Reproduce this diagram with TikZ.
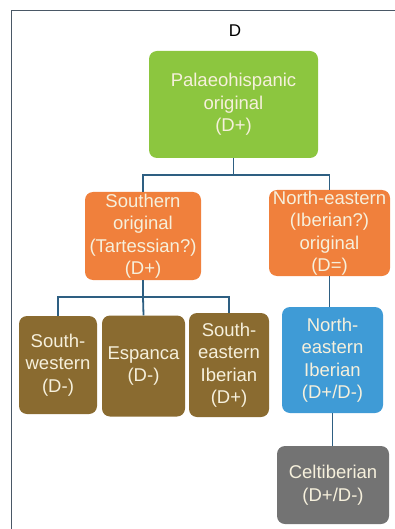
\documentclass[tikz,border=0pt]{standalone}
\usepackage{fontspec}
\setmainfont{Liberation Sans}
\begin{document}
\begin{tikzpicture}[x=1pt,y=-1pt,
  box/.style={rounded corners=8pt, inner sep=0pt, align=center, text=boxtext,
    font=\fontsize{18.5}{22.5}\selectfont},
  conn/.style={draw=connblue, line width=1.8pt},
]
\definecolor{boxtext}{HTML}{F6F0DC}
\definecolor{cgreen}{HTML}{8CC63F}
\definecolor{corange}{HTML}{F0803C}
\definecolor{cbrown}{HTML}{8A6B30}
\definecolor{cblue}{HTML}{3F9BD6}
\definecolor{cgray}{HTML}{737373}
\definecolor{connblue}{HTML}{2E5F82}
\definecolor{framec}{HTML}{4A5866}
\useasboundingbox (0,0) rectangle (395,529);
\draw[framec, line width=0.8pt] (11,529) -- (11,10) -- (395,10);
\node[font=\fontsize{17}{20}\selectfont] (title) at (235,31) {D};
\node[box, fill=cgreen, minimum width=169pt, minimum height=107pt] (pal) at (233.5,104.5) {Palaeohispanic\\original\\(D+)};
\node[box, fill=corange, minimum width=116pt, minimum height=88pt] (sou) at (143,236) {Southern\\original\\(Tartessian?)\\(D+)};
\node[box, fill=corange, minimum width=121pt, minimum height=86pt] (nea) at (329.5,233) {North-eastern\\(Iberian?)\\original\\(D=)};
\node[box, fill=cbrown, minimum width=78pt, minimum height=98pt] (sw) at (58,365) {South-\\western\\(D-)};
\node[box, fill=cbrown, minimum width=83pt, minimum height=101pt] (esp) at (143.5,366) {Espanca\\(D-)};
\node[box, fill=cbrown, minimum width=80pt, minimum height=104pt] (se) at (229,365) {South-\\eastern\\Iberian\\(D+)};
\node[box, fill=cblue, minimum width=101pt, minimum height=106pt] (nei) at (332.5,360) {North-\\eastern\\Iberian\\(D+/D-)};
\node[box, fill=cgray, minimum width=112pt, minimum height=78pt] (cel) at (333,485) {Celtiberian\\(D+/D-)};
\coordinate (j1) at (233.5,175);
\coordinate (j2) at (143,297);
\draw[conn] (pal.south) -- (j1);
\draw[conn] (sou.north) |- (j1) -| (nea.north);
\draw[conn] (sou.south) -- (j2);
\draw[conn] (sw.north) |- (j2) -| (se.north);
\draw[conn] (j2) -- (esp.north);
\draw[conn] (nea.south) -- (nea.south |- nei.north);
\draw[conn] (nei.south) -- (nei.south |- cel.north);
\end{tikzpicture}
\end{document}
